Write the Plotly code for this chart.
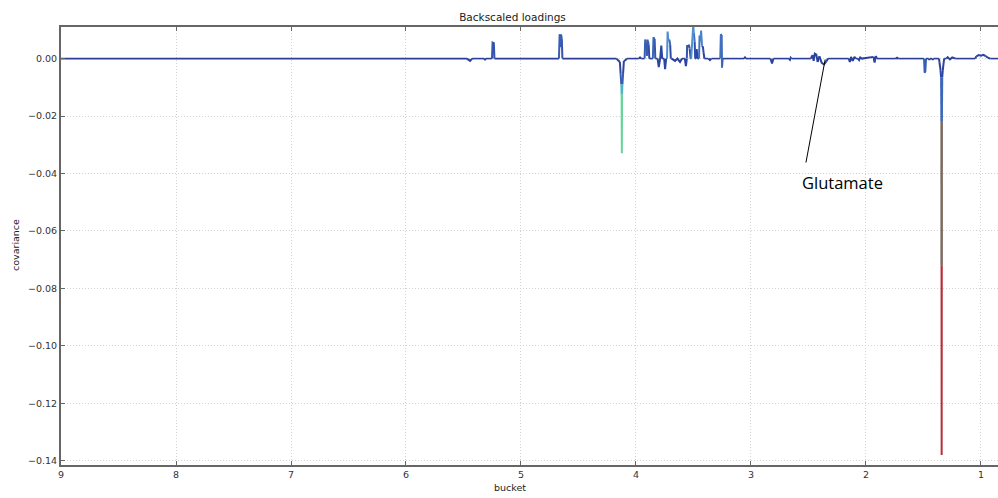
import plotly.graph_objects as go
from plotly.colors import sample_colorscale

# ---- data ----
ppm = [9.0, 5.47, 5.443, 5.425, 5.32, 5.313, 5.305, 5.252, 5.247, 5.236, 5.231,
       4.670, 4.664, 4.657, 4.652, 4.645, 4.640,
       4.17, 4.155, 4.14, 4.134, 4.128, 4.125, 4.123, 4.121, 4.118, 4.112, 4.105, 4.09, 4.08,
       3.975, 3.965, 3.955, 3.925, 3.920, 3.912, 3.905, 3.900, 3.890, 3.884,
       3.853, 3.848, 3.838, 3.832, 3.812, 3.802, 3.79, 3.780, 3.772, 3.755, 3.747, 3.738,
       3.730, 3.725, 3.718, 3.710, 3.703, 3.697, 3.69, 3.66, 3.64, 3.617, 3.60,
       3.575, 3.566, 3.558, 3.555, 3.548, 3.540, 3.533, 3.525, 3.52, 3.502, 3.497, 3.490, 3.485,
       3.478, 3.472, 3.466, 3.452, 3.447, 3.440, 3.434, 3.426, 3.418, 3.412, 3.405,
       3.37, 3.357, 3.345, 3.267, 3.262, 3.255, 3.252, 3.247, 3.24,
       3.06, 3.052, 3.045, 2.83, 2.817, 2.805, 2.67, 2.661, 2.655, 2.648,
       2.48, 2.465, 2.455, 2.445, 2.432, 2.42, 2.405, 2.385, 2.365, 2.345, 2.33,
       2.15, 2.14, 2.13, 2.115, 2.10, 2.09, 2.07, 2.06, 2.05, 2.035,
       1.935, 1.925, 1.915, 1.905, 1.74, 1.73, 1.72,
       1.495, 1.490, 1.484, 1.478, 1.455, 1.45, 1.445, 1.425, 1.42, 1.415,
       1.365, 1.36, 1.352, 1.347, 1.344, 1.343, 1.342, 1.341, 1.340, 1.337, 1.332, 1.325, 1.32,
       1.30, 1.29, 1.27, 1.25, 1.22, 1.20,
       1.05, 1.04, 1.02, 1.0, 0.98, 0.96, 0.94, 0.92, 0.85]

cov = [0.0, 0.0, -0.0008, 0.0, 0.0, -0.0003, 0.0, 0.0, 0.0056, 0.0054, 0.0,
       0.0, 0.0085, 0.0040, 0.0084, 0.0070, 0.0,
       0.0, -0.0008, -0.0012, -0.0050, -0.0090, -0.0125, -0.0330, -0.0125, -0.0090, -0.0050, -0.0008, -0.0005, 0.0,
       0.0, 0.0004, 0.0, 0.0, 0.0066, 0.0055, 0.0010, 0.0066, 0.0050, 0.0,
       0.0, 0.0074, 0.0068, 0.0, 0.0, -0.0030, 0.0, 0.0045, 0.0, 0.0, -0.0037, 0.0,
       0.0, 0.0094, 0.0060, 0.0066, 0.0050, 0.0, 0.0, -0.0008, 0.0, -0.0012, 0.0,
       0.0, -0.0026, 0.0, 0.0047, 0.0040, 0.0048, 0.0035, 0.0, 0.0, 0.0118, 0.0090, 0.0060, 0.0,
       0.0, 0.0033, 0.0, 0.0, 0.0080, 0.0060, 0.0098, 0.0045, 0.0040, 0.0020, 0.0,
       0.0, -0.0005, 0.0, 0.0, 0.0085, 0.0082, -0.0031, 0.0, 0.0,
       0.0, 0.0004, 0.0, 0.0, -0.0017, 0.0, 0.0, -0.0004, 0.0003, 0.0,
       0.0, 0.0012, -0.0008, 0.0017, 0.0014, -0.0012, 0.0008, -0.0015, -0.0020, -0.0010, 0.0,
       0.0, -0.0012, 0.0006, -0.0008, 0.0006, 0.0, 0.0, -0.0005, 0.0004, 0.0,
       0.0006, -0.0014, 0.0009, 0.0, 0.0, 0.0003, 0.0,
       0.0, -0.0049, -0.0045, 0.0, 0.0, -0.0004, 0.0, 0.0, -0.0004, 0.0,
       0.0, -0.0015, -0.0040, -0.0065, -0.0220, -0.0720, -0.1380, -0.0720, -0.0220, -0.0065, -0.0040, -0.0015, 0.0,
       0.0, 0.0005, -0.0003, 0.0004, 0.0, 0.0,
       0.0, 0.0008, 0.0012, 0.0010, 0.0013, 0.0009, 0.0003, 0.0, 0.0]

corr = [0.08, 0.08, 0.1, 0.08, 0.08, 0.1, 0.08, 0.08, 0.18, 0.18, 0.08,
        0.08, 0.2, 0.15, 0.2, 0.18, 0.08,
        0.08, 0.1, 0.1, 0.14, 0.2, 0.46, 0.6, 0.46, 0.2, 0.14, 0.1, 0.1, 0.08,
        0.08, 0.1, 0.08, 0.08, 0.2, 0.16, 0.12, 0.2, 0.16, 0.08,
        0.08, 0.22, 0.18, 0.08, 0.08, 0.14, 0.08, 0.14, 0.08, 0.08, 0.14, 0.08,
        0.08, 0.3, 0.18, 0.22, 0.16, 0.08, 0.08, 0.1, 0.08, 0.1, 0.08,
        0.08, 0.12, 0.08, 0.18, 0.15, 0.18, 0.14, 0.08, 0.08, 0.32, 0.24, 0.16, 0.08,
        0.08, 0.14, 0.08, 0.08, 0.24, 0.18, 0.28, 0.16, 0.16, 0.12, 0.08,
        0.08, 0.1, 0.08, 0.08, 0.24, 0.22, 0.14, 0.08, 0.08,
        0.08, 0.1, 0.08, 0.08, 0.12, 0.08, 0.08, 0.1, 0.1, 0.08,
        0.08, 0.12, 0.1, 0.12, 0.12, 0.1, 0.1, 0.12, 0.12, 0.1, 0.08,
        0.08, 0.1, 0.1, 0.1, 0.1, 0.08, 0.08, 0.1, 0.1, 0.08,
        0.1, 0.12, 0.1, 0.08, 0.08, 0.1, 0.08,
        0.08, 0.2, 0.2, 0.08, 0.08, 0.1, 0.08, 0.08, 0.1, 0.08,
        0.08, 0.1, 0.12, 0.14, 0.22, 0.75, 0.95, 0.75, 0.22, 0.14, 0.12, 0.1, 0.08,
        0.08, 0.1, 0.1, 0.1, 0.08, 0.08,
        0.08, 0.12, 0.14, 0.12, 0.14, 0.12, 0.1, 0.08, 0.08]

x_ticks = [9, 8, 7, 6, 5, 4, 3, 2, 1]
y_ticks = [0.0, -0.02, -0.04, -0.06, -0.08, -0.10, -0.12, -0.14]
y_tick_text = ["0.00", "\u22120.02", "\u22120.04", "\u22120.06", "\u22120.08",
               "\u22120.10", "\u22120.12", "\u22120.14"]

# colour map for the correlation value of each segment
cscale = [[0.0, "#26348c"], [0.15, "#2e46a4"], [0.3, "#4b8ed2"], [0.45, "#4fb6c6"],
          [0.6, "#67d49c"], [0.75, "#7d6a60"], [0.85, "#a0404a"], [1.0, "#c0262e"]]

# ---- build segments grouped by colour ----
groups = {}
for i in range(len(ppm) - 1):
    c = corr[i] if abs(cov[i]) >= abs(cov[i + 1]) else corr[i + 1]
    g = groups.setdefault(c, {"x": [], "y": []})
    if g["x"] and g["x"][-1] == ppm[i] and g["y"][-1] == cov[i]:
        g["x"].append(ppm[i + 1]); g["y"].append(cov[i + 1])
    else:
        if g["x"]:
            g["x"].append(None); g["y"].append(None)
        g["x"] += [ppm[i], ppm[i + 1]]
        g["y"] += [cov[i], cov[i + 1]]

fig = go.Figure()
for c in sorted(groups):
    col = sample_colorscale(cscale, [c])[0]
    w = 2.0 if c > 0.09 else 1.6
    fig.add_trace(go.Scatter(x=groups[c]["x"], y=groups[c]["y"], mode="lines",
                             line=dict(color=col, width=w), hoverinfo="skip",
                             showlegend=False, connectgaps=False))

# Glutamate pointer
fig.add_shape(type="line", xref="x", yref="y", x0=2.355, y0=-0.0003, x1=2.522, y1=-0.0362,
              line=dict(color="black", width=1))
fig.add_annotation(x=2.57, y=-0.0432, xref="x", yref="y", text="Glutamate", showarrow=False,
                   xanchor="left", yanchor="middle",
                   font=dict(family="Open Sans", size=16.5, color="black"))

tick_font = dict(family="DejaVu Sans", size=9.5, color="#333")
grid = dict(showgrid=True, gridcolor="#d2d2d2", griddash="1px,2px", gridwidth=1, zeroline=False)
fig.update_layout(
    width=998, height=498,
    margin=dict(l=61, r=0, t=27, b=33),
    paper_bgcolor="white", plot_bgcolor="white",
    title=dict(text="Backscaled loadings", x=512.5 / 998, xref="container", xanchor="center",
               y=1 - 17 / 498, yref="container", yanchor="middle",
               font=dict(family="DejaVu Sans", size=10.5, color="#222")),
    xaxis=dict(range=[9, 0.852], tickvals=x_ticks, ticktext=[str(t) for t in x_ticks],
               showline=True, linecolor="#666", linewidth=2, mirror="ticks",
               ticks="inside", ticklen=4, tickcolor="#666", tickfont=tick_font, **grid),
    yaxis=dict(range=[-0.1415, 0.011], tickvals=y_ticks, ticktext=y_tick_text,
               showline=True, linecolor="#666", linewidth=2, mirror=False,
               ticks="inside", ticklen=4, tickcolor="#666", tickfont=tick_font, **grid),
)
fig.add_annotation(text="bucket", x=(510 - 61) / 937, y=(465 - 488) / 438,
                   xref="paper", yref="paper", showarrow=False,
                   xanchor="center", yanchor="middle",
                   font=dict(family="DejaVu Sans", size=9.5, color="#222"))
fig.add_annotation(text="covariance", x=(15 - 61) / 937, y=(498 - 33 - 245) / 438,
                   xref="paper", yref="paper", showarrow=False, textangle=-90,
                   xanchor="center", yanchor="middle",
                   font=dict(family="DejaVu Sans", size=9.5, color="#222"))

fig.write_html("out.html")
